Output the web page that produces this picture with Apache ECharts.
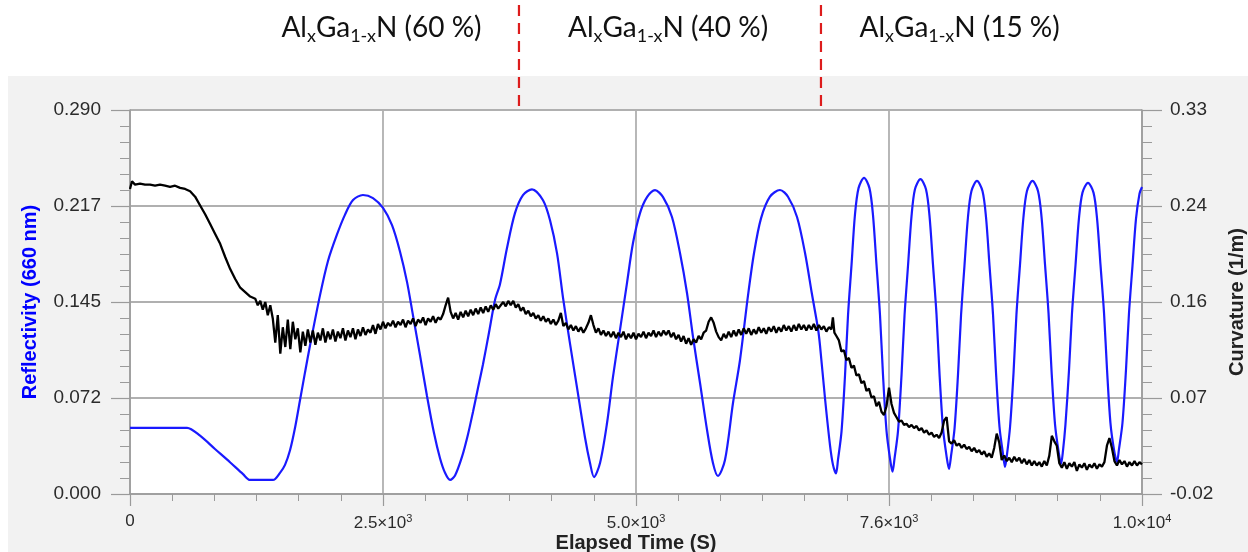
<!DOCTYPE html>
<html><head><meta charset="utf-8">
<script src="https://cdn.jsdelivr.net/npm/echarts@6/dist/echarts.min.js"></script>
<style>
html,body{margin:0;padding:0;background:#fff}
#c{width:1248px;height:552px;background:linear-gradient(#fff 76px, transparent 76px),linear-gradient(90deg,#fff 8px,#f2f2f2 8px)}
</style>
</head><body><div id="c"></div>
<script>
// ---- data ----
// Reflectivity (660 nm): [elapsed time s, reflectivity]
const reflectivity = [
 [0,0.050],[299,0.050],[569,0.050],[699,0.044],[848,0.034],[998,0.024],[1128,0.015],[1198,0.0106],[1427,0.0106],
 [1497,0.016],[1547,0.022],[1597,0.033],[1647,0.050],[1697,0.071],[1747,0.092],[1796,0.112],[1896,0.150],[1976,0.176],
 [2066,0.196],[2146,0.211],[2226,0.222],[2325,0.2258],[2425,0.2235],[2525,0.216],[2615,0.203],[2695,0.183],[2765,0.160],
 [2824,0.135],[2894,0.105],[2964,0.074],[3034,0.046],[3094,0.027],[3144,0.016],[3194,0.0106],[3244,0.014],[3313,0.028],
 [3373,0.045],[3423,0.062],[3473,0.080],[3523,0.098],[3583,0.122],[3643,0.1465],[3693,0.1586],[3762,0.1856],[3842,0.2121],
 [3922,0.2257],[4012,0.2301],[4122,0.2218],[4192,0.2067],[4262,0.1817],[4321,0.1485],[4391,0.1137],[4461,0.0805],
 [4541,0.0427],[4591,0.0234],[4631,0.0128],[4691,0.0234],[4761,0.0536],[4820,0.0883],[4890,0.1238],[4960,0.1593],
 [5020,0.1895],[5090,0.2121],[5160,0.2242],[5240,0.2295],[5320,0.2242],[5409,0.2092],[5489,0.1820],[5559,0.1518],
 [5619,0.1186],[5689,0.0838],[5759,0.0483],[5818,0.0234],[5868,0.0136],[5938,0.0257],[6018,0.0687],[6088,0.1012],
 [6168,0.150],[6228,0.182],[6297,0.208],[6387,0.2245],[6487,0.2296],[6567,0.2245],[6657,0.2092],[6737,0.182],
 [6806,0.151],[6866,0.125],[6886,0.1125],[6936,0.0725],[6986,0.037],[7016,0.022],[7046,0.0155],
 [7066,0.0259],[7101,0.0471],[7136,0.0895],[7166,0.135],[7201,0.173],[7235,0.2107],[7271,0.231],[7326,0.2388],
 [7380,0.2310],[7415,0.2108],[7450,0.1733],[7485,0.1354],[7515,0.0901],[7550,0.0479],[7585,0.0268],[7610,0.0168],
 [7630,0.0267],[7665,0.0477],[7700,0.0898],[7730,0.1348],[7765,0.1726],[7800,0.2100],[7834,0.2301],[7889,0.2378],
 [7944,0.2301],[7979,0.2102],[8014,0.1732],[8049,0.1358],[8079,0.0911],[8114,0.0495],[8149,0.0288],[8174,0.0189],
 [8194,0.0287],[8229,0.0494],[8264,0.0907],[8294,0.1350],[8328,0.1722],[8363,0.2090],[8398,0.2288],[8453,0.2364],
 [8508,0.2288],[8543,0.2092],[8578,0.1727],[8613,0.1357],[8643,0.0917],[8678,0.0506],[8713,0.0301],[8733,0.0204],
 [8753,0.0301],[8783,0.0506],[8818,0.0917],[8847,0.1357],[8882,0.1727],[8917,0.2092],[8952,0.2288],[9007,0.2364],
 [9062,0.2289],[9097,0.2095],[9132,0.1734],[9167,0.1368],[9197,0.0932],[9232,0.0526],[9267,0.0323],[9292,0.0227],
 [9311,0.0323],[9336,0.0524],[9371,0.0928],[9401,0.1361],[9436,0.1724],[9471,0.2083],[9506,0.2276],[9561,0.235],
 [9616,0.2276],[9651,0.2084],[9686,0.1728],[9721,0.1368],[9751,0.0938],[9785,0.0537],[9820,0.0337],[9850,0.0242],
 [9870,0.0337],[9905,0.0536],[9940,0.0935],[9970,0.1363],[10005,0.1723],[10040,0.2077],[10075,0.2268],[10100,0.2318]
];
// Curvature (1/m): [elapsed time s, curvature]
const curvature = [
 [0,0.258],[20,0.265],[50,0.262],[100,0.263],[150,0.262],[200,0.262],[250,0.261],[300,0.262],[350,0.261],[400,0.260],
 [450,0.261],[500,0.259],[550,0.258],[600,0.256],[650,0.251],[700,0.243],[750,0.235],[800,0.226],[850,0.217],[900,0.208],
 [950,0.196],[1000,0.185],[1050,0.176],[1100,0.168],[1150,0.164],[1200,0.160],
 [1250,0.158],[1275,0.152],[1300,0.156],[1325,0.148],[1350,0.155],[1375,0.143],[1400,0.152],[1425,0.140],[1450,0.118],
 [1475,0.143],[1500,0.108],[1525,0.132],[1550,0.114],[1575,0.139],[1600,0.112],[1625,0.137],[1650,0.121],[1675,0.131],
 [1700,0.109],[1725,0.128],[1750,0.115],[1775,0.130],[1800,0.118],[1825,0.129],[1850,0.116],[1875,0.127],[1900,0.120],
 [1925,0.131],[1950,0.118],[1975,0.128],[2000,0.121],[2025,0.130],[2050,0.119],[2075,0.128],[2100,0.122],[2125,0.131],
 [2150,0.120],[2175,0.129],[2200,0.123],[2225,0.131],[2250,0.121],[2275,0.130],[2300,0.124],[2325,0.132],[2350,0.125],
 [2375,0.130],[2400,0.127],[2425,0.134],[2450,0.126],[2475,0.135],[2500,0.130],[2525,0.137],[2550,0.131],[2575,0.136],
 [2600,0.133],[2625,0.138],[2650,0.132],[2675,0.137],[2700,0.134],[2725,0.139],[2750,0.132],[2775,0.138],[2800,0.135],
 [2825,0.140],[2850,0.133],[2875,0.139],[2900,0.136],[2925,0.141],[2950,0.134],[2975,0.140],[3000,0.137],[3025,0.142],
 [3050,0.136],[3075,0.141],[3100,0.139],[3125,0.144],[3150,0.152],[3175,0.159],[3200,0.146],[3225,0.140],[3250,0.145],
 [3275,0.139],[3300,0.146],[3325,0.141],[3350,0.147],[3375,0.142],[3400,0.148],[3425,0.143],[3450,0.149],[3475,0.144],
 [3500,0.150],[3525,0.145],[3550,0.151],[3575,0.146],[3600,0.152],[3625,0.148],[3650,0.153],[3675,0.149],[3700,0.152],
 [3725,0.155],[3750,0.151],[3775,0.156],[3800,0.152],[3825,0.156],[3850,0.150],[3875,0.153],[3900,0.147],[3925,0.150],
 [3950,0.144],[3975,0.147],[4000,0.142],[4025,0.145],[4050,0.140],[4075,0.143],[4100,0.138],[4125,0.142],[4150,0.137],
 [4175,0.140],[4200,0.135],[4225,0.139],[4250,0.134],[4275,0.138],[4300,0.145],[4325,0.133],[4350,0.136],[4375,0.130],
 [4400,0.134],[4425,0.129],[4450,0.133],[4475,0.128],[4500,0.132],[4525,0.127],[4550,0.131],[4575,0.136],[4600,0.143],
 [4625,0.134],[4650,0.127],[4675,0.131],[4700,0.125],[4725,0.129],[4750,0.124],[4775,0.128],[4800,0.123],[4825,0.128],
 [4850,0.122],[4875,0.127],[4900,0.123],[4925,0.128],[4950,0.121],[4975,0.126],[5000,0.122],[5025,0.127],[5050,0.121],
 [5075,0.126],[5100,0.123],[5125,0.128],[5150,0.122],[5175,0.127],[5200,0.124],[5225,0.129],[5250,0.123],[5275,0.128],
 [5300,0.124],[5325,0.129],[5350,0.125],[5375,0.129],[5400,0.123],[5425,0.127],[5450,0.121],[5475,0.125],[5500,0.119],
 [5525,0.124],[5550,0.117],[5575,0.122],[5600,0.116],[5625,0.121],[5650,0.118],[5675,0.124],[5700,0.121],[5725,0.127],
 [5750,0.129],[5775,0.137],[5800,0.141],[5825,0.136],[5850,0.128],[5875,0.123],[5900,0.120],[5925,0.126],[5950,0.122],
 [5975,0.128],[6000,0.123],[6025,0.129],[6050,0.124],[6075,0.130],[6100,0.125],[6125,0.131],[6150,0.126],[6175,0.131],
 [6200,0.125],[6225,0.130],[6250,0.126],[6275,0.132],[6300,0.127],[6325,0.131],[6350,0.126],[6375,0.132],[6400,0.128],
 [6425,0.133],[6450,0.127],[6475,0.132],[6500,0.128],[6525,0.134],[6550,0.129],[6575,0.133],[6600,0.128],[6625,0.134],
 [6650,0.129],[6675,0.135],[6700,0.130],[6725,0.134],[6750,0.129],[6775,0.134],[6800,0.130],[6825,0.135],[6850,0.129],
 [6875,0.134],[6900,0.130],[6925,0.133],[6950,0.128],[6975,0.132],[7000,0.130],[7015,0.141],[7030,0.127],[7050,0.124],
 [7075,0.120],[7100,0.110],[7125,0.111],[7150,0.102],[7175,0.104],[7200,0.095],[7225,0.097],[7250,0.088],[7275,0.089],
 [7300,0.081],[7325,0.083],[7350,0.074],[7375,0.076],[7400,0.068],[7425,0.069],[7450,0.060],[7475,0.064],[7500,0.055],
 [7525,0.052],[7550,0.060],[7575,0.077],[7600,0.062],[7625,0.054],[7650,0.050],[7675,0.046],[7700,0.047],[7725,0.043],
 [7750,0.044],[7775,0.041],[7800,0.043],[7825,0.040],[7850,0.042],[7875,0.038],[7900,0.040],[7925,0.036],[7950,0.038],
 [7975,0.034],[8000,0.036],[8025,0.032],[8050,0.034],[8075,0.031],[8100,0.036],[8125,0.047],[8150,0.050],[8175,0.028],
 [8200,0.026],[8225,0.029],[8250,0.024],[8275,0.026],[8300,0.022],[8325,0.025],[8350,0.021],[8375,0.023],[8400,0.019],
 [8425,0.022],[8450,0.018],[8475,0.020],[8500,0.016],[8525,0.019],[8550,0.014],[8575,0.017],[8600,0.013],[8625,0.022],
 [8650,0.035],[8675,0.027],[8700,0.011],[8725,0.015],[8750,0.010],[8775,0.013],[8800,0.009],[8825,0.014],[8850,0.010],
 [8875,0.013],[8900,0.008],[8925,0.012],[8950,0.007],[8975,0.011],[9000,0.006],[9025,0.010],[9050,0.006],[9075,0.009],
 [9100,0.005],[9125,0.010],[9150,0.006],[9175,0.015],[9200,0.033],[9225,0.028],[9250,0.024],[9275,0.008],[9300,0.004],
 [9325,0.009],[9350,0.003],[9375,0.008],[9400,0.005],[9425,0.009],[9450,0.001],[9475,0.007],[9500,0.004],[9525,0.008],
 [9550,0.002],[9575,0.007],[9600,0.004],[9625,0.008],[9650,0.003],[9675,0.007],[9700,0.005],[9725,0.009],[9750,0.024],
 [9775,0.031],[9800,0.022],[9825,0.010],[9850,0.006],[9875,0.011],[9900,0.007],[9925,0.010],[9950,0.005],[9975,0.009],
 [10000,0.006],[10025,0.010],[10050,0.006],[10075,0.009],[10100,0.007]
];
// axis ticks
const xTickBase = ['0','2.5×10','5.0×10','7.6×10','1.0×10'];
const xTickExp  = ['','3','3','3','4'];
const leftTicks = ['0.000','0.072','0.145','0.217','0.290'];
const rightTicks = ['-0.02','0.07','0.16','0.24','0.33'];
// layer annotations
const layerNames = ['60 %','40 %','15 %'];
const layerLabelTimes = [2510, 5370, 8280];
const layerBoundaries = [3882, 6896];

// ---- chart ----
const X_MIN = 0, X_MAX = 10100, X_INT = 2525;
const L_MIN = 0, L_MAX = 0.29, L_INT = 0.0725;
const R_MIN = -0.02, R_MAX = 0.33, R_INT = 0.0875;
const axisGray = '#9a9a9a';
const FONT = 'Liberation Sans, Arial, sans-serif';
const labelStyle = {color:'#2b2b2b', fontSize:19, fontFamily:FONT};

const chart = echarts.init(document.getElementById('c'), null, {renderer:'canvas'});
chart.setOption({
  animation:false,
  backgroundColor:'transparent',
  grid:{left:130, right:106, top:110, bottom:58, show:true, backgroundColor:'#ffffff', borderWidth:0, outerBoundsMode:'none', containLabel:false},
  xAxis:{
    type:'value', min:X_MIN, max:X_MAX, interval:X_INT,
    axisLine:{show:true, onZero:false, lineStyle:{color:axisGray, width:1.5}},
    axisTick:{show:true, length:12, lineStyle:{color:axisGray, width:1.2}},
    minorTick:{show:true, splitNumber:6, length:7, lineStyle:{color:axisGray, width:1}},
    splitLine:{show:true, lineStyle:{color:'#b0b0b0', width:1.8}},
    axisLabel:{
      margin:19, ...labelStyle, fontSize:17,
      formatter:function(v){const i=Math.round((v-X_MIN)/X_INT); return xTickExp[i]? '{b|'+xTickBase[i]+'}{s|'+xTickExp[i]+'}' : '{b|'+xTickBase[i]+'}';},
      rich:{b:{fontSize:17, color:'#2b2b2b', fontFamily:FONT}, s:{fontSize:11, color:'#2b2b2b', padding:[0,0,10,0], fontFamily:FONT}}
    },
    name:'Elapsed Time (S)', nameLocation:'middle', nameGap:49, nameMoveOverlap:false,
    nameTextStyle:{fontWeight:'bold', fontSize:20, color:'#222', fontFamily:FONT, verticalAlign:'middle'}
  },
  yAxis:[{
    type:'value', position:'left', min:L_MIN, max:L_MAX, interval:L_INT,
    axisLine:{show:true, lineStyle:{color:axisGray, width:1.5}},
    axisTick:{show:true, length:19, lineStyle:{color:axisGray, width:1.2}},
    minorTick:{show:true, splitNumber:6, length:10, lineStyle:{color:axisGray, width:1}},
    splitLine:{show:true, lineStyle:{color:'#b0b0b0', width:1.8}},
    axisLabel:{margin:29, ...labelStyle, formatter:function(v){return leftTicks[Math.round((v-L_MIN)/L_INT)];}},
    name:'Reflectivity (660 nm)', nameLocation:'middle', nameGap:90, nameRotate:90,
    nameTextStyle:{fontWeight:'bold', fontSize:20, color:'#0000ff', fontFamily:FONT}
  },{
    type:'value', position:'right', min:R_MIN, max:R_MAX, interval:R_INT,
    axisLine:{show:true, lineStyle:{color:axisGray, width:1.5}},
    axisTick:{show:true, length:20, lineStyle:{color:axisGray, width:1.2}},
    minorTick:{show:true, splitNumber:6, length:10, lineStyle:{color:axisGray, width:1}},
    splitLine:{show:false},
    axisLabel:{margin:28, ...labelStyle, formatter:function(v){return rightTicks[Math.round((v-R_MIN)/R_INT)];}},
    name:'Curvature (1/m)', nameLocation:'middle', nameGap:85, nameRotate:90,
    nameTextStyle:{fontWeight:'bold', fontSize:20, color:'#222', fontFamily:FONT}
  }],
  series:[{
    type:'line', name:'Reflectivity', yAxisIndex:0, data:reflectivity, showSymbol:false, smooth:0.3,
    lineStyle:{color:'#1a1aff', width:2.2}, z:3
  },{
    type:'line', name:'Curvature', yAxisIndex:1, data:curvature, showSymbol:false, smooth:false,
    lineStyle:{color:'#000000', width:2.3}, z:4
  }]
});

// annotations above the plot, positioned through the x axis scale
const gfx = [];
layerBoundaries.forEach(function(t){
  const px = chart.convertToPixel({xAxisIndex:0}, t);
  gfx.push({type:'line', shape:{x1:px, y1:5, x2:px, y2:108}, style:{stroke:'#dd1c1c', lineWidth:2.2, lineDash:[11,7]}, z:10});
});
layerLabelTimes.forEach(function(t, i){
  const px = chart.convertToPixel({xAxisIndex:0}, t);
  gfx.push({type:'text', x:px, y:28, z:10, style:{
    text:'{n|Al}{s|x}{n|Ga}{s|1-x}{n|N ('+layerNames[i]+')}',
    align:'center', verticalAlign:'middle',
    rich:{n:{fontSize:28, fontFamily:'Lato, Open Sans, sans-serif', fill:'#111', lineHeight:34},
          s:{fontSize:18, fontFamily:'Lato, Open Sans, sans-serif', fill:'#111', padding:[16,0,0,0]}}
  }});
});
chart.setOption({graphic:gfx});
</script></body></html>
